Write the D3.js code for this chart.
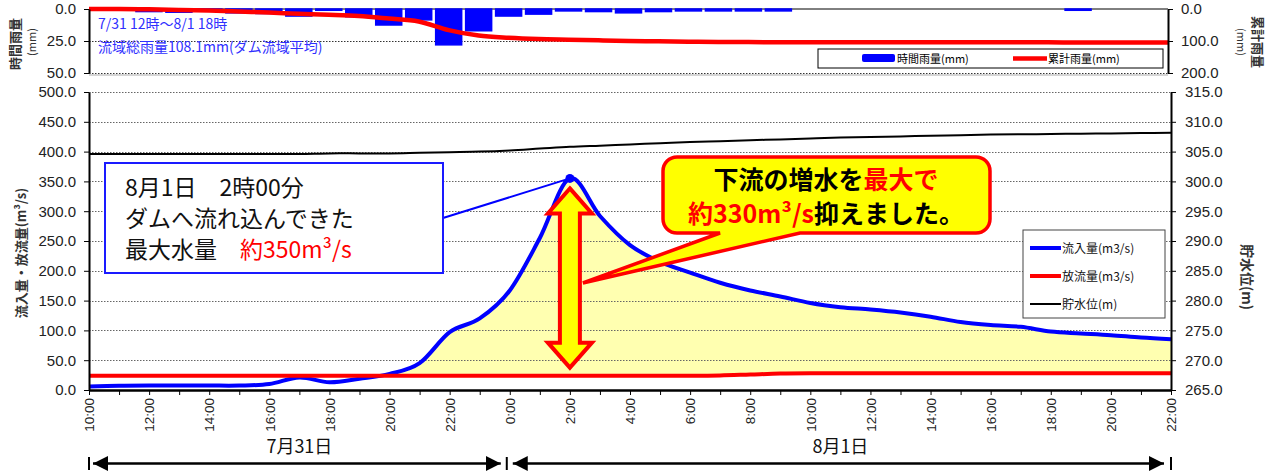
<!DOCTYPE html>
<html>
<head>
<meta charset="utf-8">
<script src="https://cdn.jsdelivr.net/npm/d3@7"></script>
<style>
body { margin: 0; background: #fff; }
svg text { font-family: "Liberation Sans", Arial, sans-serif; }
.jp { font-family: "Noto Sans CJK JP", sans-serif; }
</style>
</head>
<body>
<script>
// hourly timestamps, 7/31 10:00 .. 8/1 22:00
const times = ["7/31 10:00","7/31 11:00","7/31 12:00","7/31 13:00","7/31 14:00","7/31 15:00",
  "7/31 16:00","7/31 17:00","7/31 18:00","7/31 19:00","7/31 20:00","7/31 21:00","7/31 22:00",
  "7/31 23:00","8/1 0:00","8/1 1:00","8/1 2:00","8/1 3:00","8/1 4:00","8/1 5:00","8/1 6:00",
  "8/1 7:00","8/1 8:00","8/1 9:00","8/1 10:00","8/1 11:00","8/1 12:00","8/1 13:00","8/1 14:00",
  "8/1 15:00","8/1 16:00","8/1 17:00","8/1 18:00","8/1 19:00","8/1 20:00","8/1 21:00","8/1 22:00"];

// 流入量 (m3/s)
const inflow = [6, 7, 7.5, 7.5, 7.5, 7.5, 10, 21, 13, 19, 27, 45, 97,
  120, 167, 255, 355, 292, 243, 215, 197, 180, 167, 157, 146, 139, 135,
  130, 123, 114, 109, 106, 98, 95, 92, 88, 85];
// 放流量 (m3/s)
const outflow = [24, 24, 24, 24, 24, 24, 24, 24, 24, 24, 24, 24, 24,
  24, 24, 24, 24, 24, 24, 24, 24, 24.5, 26, 27.5, 28, 28, 28,
  28, 28, 28, 28, 28, 28, 28, 28, 28, 28];
// 貯水位 (m)
const level = [304.6, 304.6, 304.6, 304.6, 304.6, 304.6, 304.6, 304.6, 304.7, 304.7, 304.7, 304.8, 304.9,
  305.0, 305.2, 305.5, 305.8, 306.0, 306.2, 306.4, 306.6, 306.75, 306.9, 307.05, 307.2, 307.35, 307.45,
  307.55, 307.65, 307.75, 307.85, 307.9, 307.95, 308.0, 308.05, 308.1, 308.15];
// 時間雨量 (mm)
const rainHourly = [0, 0, 2, 2.5, 0.5, 3, 3.5, 5.5, 1, 6, 12.5, 8.5, 28,
  17, 5.5, 4, 1.5, 2, 3, 2, 1.5, 1.5, 1.5, 1.5, 0, 0, 0,
  0, 0, 0, 0, 0, 0, 1, 0, 0, 0];
// 累計雨量 (mm)
const rainTotal = [0, 0, 1, 3, 5, 8, 11, 15, 18, 22, 30, 39, 66,
  83, 90, 94, 96, 98, 100, 101, 102, 103, 103.5, 104, 104, 104, 104,
  104, 104, 104, 104, 104, 104, 105, 105, 105, 105];

const flowTicks = [0, 50, 100, 150, 200, 250, 300, 350, 400, 450, 500];
const levelTicks = [265, 270, 275, 280, 285, 290, 295, 300, 305, 310, 315];
const rainTicks = [0, 25, 50];
const totalTicks = [0, 100, 200];
const dayBreak = "8/1 0:00";
const peakTime = "8/1 2:00";

const parse = d3.timeParse("%m/%d %H:%M");
const dates = times.map(parse);
const fmt1 = d3.format(".1f");

const svg = d3.select("body").append("svg")
  .attr("width", 1274).attr("height", 472);

const x = d3.scaleTime().domain(d3.extent(dates)).range([89, 1171]);
const xTop = d3.scaleTime().domain(d3.extent(dates)).range([89, 1168]);
const yFlow = d3.scaleLinear().domain([0, 500]).range([390, 92]);
const yLevel = d3.scaleLinear().domain([265, 315]).range([390, 92]);
const yRain = d3.scaleLinear().domain([0, 50]).range([9, 73]);
const yTotal = d3.scaleLinear().domain([0, 200]).range([9, 73]);

// ---------- top panel : rainfall ----------
const topG = svg.append("g");

topG.append("line").attr("x1", 89).attr("x2", 1168).attr("y1", 9).attr("y2", 9)
  .attr("stroke", "#000").attr("stroke-width", 1);
topG.selectAll(".rgrid").data([25, 50]).enter().append("line")
  .attr("x1", 89).attr("x2", 1168)
  .attr("y1", d => yRain(d) + 0.5).attr("y2", d => yRain(d) + 0.5)
  .attr("stroke", "#333").attr("stroke-dasharray", "1.5,1.5");
topG.append("line").attr("x1", 89).attr("x2", 1168).attr("y1", 75).attr("y2", 75)
  .attr("stroke", "#aaa").attr("stroke-width", 1);

topG.selectAll(".bar").data(rainHourly.map((v, i) => ({ t: dates[i], v })).filter(d => d.v > 0))
  .enter().append("rect")
  .attr("x", d => xTop(d.t) - 13)
  .attr("y", yRain(0))
  .attr("width", 26)
  .attr("height", d => yRain(d.v) - yRain(0))
  .attr("fill", "#0000ff")
  .attr("stroke", "#0000ff").attr("stroke-width", 1.5);

const cumLine = d3.line().x((d, i) => xTop(dates[i])).y(d => yTotal(d)).curve(d3.curveMonotoneX);
topG.append("path").datum(rainTotal).attr("d", cumLine)
  .attr("fill", "none").attr("stroke", "#ff0000").attr("stroke-width", 4.5);

const rainAxis = topG.append("g").attr("transform", "translate(89,0)")
  .call(d3.axisLeft(yRain).tickValues(rainTicks).tickFormat(fmt1).tickSize(5).tickSizeOuter(0).tickPadding(8));
const totalAxis = topG.append("g").attr("transform", "translate(1168,0)")
  .call(d3.axisRight(yTotal).tickValues(totalTicks).tickFormat(fmt1).tickSize(5).tickSizeOuter(0).tickPadding(8));
[rainAxis, totalAxis].forEach(a => {
  a.select(".domain").attr("stroke-width", 2);
  a.selectAll("text").attr("font-size", 15).attr("fill", "#222");
});

topG.append("text").attr("class", "jp")
  .attr("transform", "translate(20,44) rotate(-90)").attr("text-anchor", "middle")
  .attr("font-size", 13).attr("font-weight", "bold").attr("fill", "#333").text("時間雨量");
topG.append("text").attr("class", "jp")
  .attr("transform", "translate(36,42) rotate(-90)").attr("text-anchor", "middle")
  .attr("font-size", 11).attr("fill", "#333").text("(mm)");
topG.append("text").attr("class", "jp")
  .attr("transform", "translate(1253,42) rotate(90)").attr("text-anchor", "middle")
  .attr("font-size", 13).attr("font-weight", "bold").attr("fill", "#333").text("累計雨量");
topG.append("text").attr("class", "jp")
  .attr("transform", "translate(1237,42) rotate(90)").attr("text-anchor", "middle")
  .attr("font-size", 11).attr("fill", "#333").text("(mm)");

topG.append("text").attr("class", "jp").attr("x", 98).attr("y", 29)
  .attr("font-size", 14).attr("fill", "#3030ff").text("7/31 12時～8/1 18時");
topG.append("text").attr("class", "jp").attr("x", 98).attr("y", 52)
  .attr("font-size", 14).attr("fill", "#3030ff").text("流域総雨量108.1mm(ダム流域平均)");

// top legend
const tl = topG.append("g");
tl.append("rect").attr("x", 818).attr("y", 49).attr("width", 345).attr("height", 19)
  .attr("fill", "#fff").attr("stroke", "#000");
tl.append("rect").attr("x", 862).attr("y", 54).attr("width", 33).attr("height", 8).attr("rx", 2)
  .attr("fill", "#0000ff");
tl.append("text").attr("class", "jp").attr("x", 897).attr("y", 63).attr("font-size", 11).text("時間雨量(mm)");
tl.append("line").attr("x1", 1013).attr("x2", 1047).attr("y1", 58.5).attr("y2", 58.5)
  .attr("stroke", "#ff0000").attr("stroke-width", 4.5);
tl.append("text").attr("class", "jp").attr("x", 1048).attr("y", 63).attr("font-size", 11).text("累計雨量(mm)");

// ---------- main panel ----------
const main = svg.append("g");

// yellow area between inflow and outflow
const fillFrom = parse("7/31 19:45");
main.append("clipPath").attr("id", "fillclip").append("rect")
  .attr("x", x(fillFrom)).attr("y", 92)
  .attr("width", 1171 - x(fillFrom)).attr("height", 298);
const fillArea = d3.area()
  .x((d, i) => x(dates[i]))
  .y0((d, i) => yFlow(outflow[i]))
  .y1(d => yFlow(d))
  .curve(d3.curveCardinal.tension(0));
main.append("path").datum(inflow).attr("d", fillArea)
  .attr("clip-path", "url(#fillclip)")
  .attr("fill", "#ffffb0").attr("stroke", "none");

// dotted grid
main.selectAll(".grid").data(flowTicks.slice(1)).enter().append("line")
  .attr("x1", 89).attr("x2", 1171)
  .attr("y1", d => Math.round(yFlow(d)) + 0.5).attr("y2", d => Math.round(yFlow(d)) + 0.5)
  .attr("stroke", "#666").attr("stroke-dasharray", "1.5,1.5");

const flowLine = d3.line().x((d, i) => x(dates[i])).y(d => yFlow(d)).curve(d3.curveCardinal.tension(0));
const levelLine = d3.line().x((d, i) => x(dates[i])).y(d => yLevel(d)).curve(d3.curveCardinal.tension(0));

main.append("path").datum(inflow).attr("d", flowLine)
  .attr("fill", "none").attr("stroke", "#0000ff").attr("stroke-width", 4);
main.append("path").datum(outflow).attr("d", flowLine)
  .attr("fill", "none").attr("stroke", "#ff0000").attr("stroke-width", 4);
main.append("path").datum(level).attr("d", levelLine)
  .attr("fill", "none").attr("stroke", "#000").attr("stroke-width", 2);

// axes
const leftAxis = main.append("g").attr("transform", "translate(89,0)")
  .call(d3.axisLeft(yFlow).tickValues(flowTicks).tickFormat(fmt1).tickSize(5).tickSizeOuter(0).tickPadding(8));
const rightAxis = main.append("g").attr("transform", "translate(1171,0)")
  .call(d3.axisRight(yLevel).tickValues(levelTicks).tickFormat(fmt1).tickSize(5).tickSizeOuter(0).tickPadding(9));
[leftAxis, rightAxis].forEach(a => {
  a.select(".domain").attr("stroke-width", 2);
  a.selectAll("text").attr("font-size", 15).attr("fill", "#222");
});

const xAxis = main.append("g").attr("transform", "translate(0,390)")
  .call(d3.axisBottom(x).ticks(d3.timeHour.every(1))
    .tickFormat(d => d.getHours() % 2 === 0 ? d3.timeFormat("%-H:%M")(d) : "")
    .tickSize(5).tickSizeOuter(0));
xAxis.select(".domain").attr("stroke-width", 2.5);
xAxis.selectAll("text")
  .attr("transform", "rotate(-90)")
  .attr("text-anchor", "end")
  .attr("x", -8).attr("y", 0).attr("dy", "0.35em")
  .attr("font-size", 13.5).attr("fill", "#222");

main.append("text").attr("class", "jp")
  .attr("transform", "translate(26,253) rotate(-90)").attr("text-anchor", "middle")
  .attr("font-size", 13).attr("font-weight", "bold").attr("fill", "#333").text("流入量・放流量(m³/s)");
main.append("text").attr("class", "jp")
  .attr("transform", "translate(1242,277) rotate(90)").attr("text-anchor", "middle")
  .attr("font-size", 14).attr("font-weight", "bold").attr("fill", "#333").text("貯水位(m)");

// main legend
const lg = main.append("g");
lg.append("rect").attr("x", 1023).attr("y", 230).attr("width", 142).attr("height", 88)
  .attr("fill", "#fff").attr("stroke", "#444");
const legendItems = [
  { name: "流入量(m3/s)", color: "#0000ff", w: 4 },
  { name: "放流量(m3/s)", color: "#ff0000", w: 4 },
  { name: "貯水位(m)", color: "#000", w: 2 }
];
legendItems.forEach((d, i) => {
  const yy = 248 + i * 28;
  lg.append("line").attr("x1", 1030).attr("x2", 1061).attr("y1", yy).attr("y2", yy)
    .attr("stroke", d.color).attr("stroke-width", d.w);
  lg.append("text").attr("class", "jp").attr("x", 1062).attr("y", yy + 4.5)
    .attr("font-size", 12).attr("fill", "#111").text(d.name);
});

// ---------- annotations ----------
const pk = parse(peakTime);
const pkIdx = dates.findIndex(d => +d === +pk);
const px = x(pk), py = yFlow(inflow[pkIdx]);

// info box with connector
main.append("line").attr("x1", 443).attr("y1", 218).attr("x2", px).attr("y2", py)
  .attr("stroke", "#0000ff").attr("stroke-width", 2);
main.append("rect").attr("x", 105).attr("y", 163).attr("width", 338).attr("height", 110)
  .attr("fill", "#fff").attr("stroke", "#1a1aff").attr("stroke-width", 2);
const info = main.append("text").attr("class", "jp").attr("font-size", 23).attr("fill", "#111");
info.append("tspan").attr("x", 125).attr("y", 196).text("8月1日　2時00分");
info.append("tspan").attr("x", 125).attr("y", 227).text("ダムへ流れ込んできた");
info.append("tspan").attr("x", 125).attr("y", 258).text("最大水量　");
info.append("tspan").attr("fill", "#ff0000").text("約350m³/s");
main.append("circle").attr("cx", px).attr("cy", py).attr("r", 4.5).attr("fill", "#0000ff");

// double-headed arrow from peak to release
const aTop = py + 10, aBot = yFlow(outflow[pkIdx]) - 8;
const hw = 22, sw = 10, hl = 25;
const arrowPath = d3.path();
arrowPath.moveTo(px, aTop);
arrowPath.lineTo(px + hw, aTop + hl);
arrowPath.lineTo(px + sw, aTop + hl);
arrowPath.lineTo(px + sw, aBot - hl);
arrowPath.lineTo(px + hw, aBot - hl);
arrowPath.lineTo(px, aBot);
arrowPath.lineTo(px - hw, aBot - hl);
arrowPath.lineTo(px - sw, aBot - hl);
arrowPath.lineTo(px - sw, aTop + hl);
arrowPath.lineTo(px - hw, aTop + hl);
arrowPath.closePath();
main.append("path").attr("d", arrowPath.toString())
  .attr("fill", "#ffff00").attr("stroke", "#ff0000").attr("stroke-width", 4);

// callout bubble
const bx0 = 663, bx1 = 990, by0 = 157, by1 = 233, r = 14;
const tipX = px + sw + 3, tipY = 283;
const bubble = d3.path();
bubble.moveTo(bx0 + r, by0);
bubble.lineTo(bx1 - r, by0);
bubble.arcTo(bx1, by0, bx1, by0 + r, r);
bubble.lineTo(bx1, by1 - r);
bubble.arcTo(bx1, by1, bx1 - r, by1, r);
bubble.lineTo(800, by1);
bubble.lineTo(tipX, tipY);
bubble.lineTo(720, by1);
bubble.lineTo(bx0 + r, by1);
bubble.arcTo(bx0, by1, bx0, by1 - r, r);
bubble.lineTo(bx0, by0 + r);
bubble.arcTo(bx0, by0, bx0 + r, by0, r);
bubble.closePath();
main.append("path").attr("d", bubble.toString())
  .attr("fill", "#ffff00").attr("stroke", "#ff0000").attr("stroke-width", 3.5)
  .attr("stroke-linejoin", "miter");

const callout = main.append("text").attr("class", "jp")
  .attr("text-anchor", "middle").attr("font-size", 25).attr("font-weight", "bold").attr("fill", "#000");
const cl1 = callout.append("tspan").attr("x", 826).attr("y", 189);
cl1.append("tspan").text("下流の増水を");
cl1.append("tspan").attr("fill", "#ff0000").text("最大で");
callout.append("tspan").attr("x", 826).attr("y", 223).attr("fill", "#ff0000").text("約330m³/s");
callout.append("tspan").text("抑えました。");

// ---------- day markers ----------
const defs = svg.append("defs");
["arrEnd", "arrStart"].forEach((id, k) => {
  defs.append("marker").attr("id", id)
    .attr("viewBox", "0 0 10 10").attr("refX", k === 0 ? 10 : 0).attr("refY", 5)
    .attr("markerWidth", 6).attr("markerHeight", 6).attr("markerUnits", "strokeWidth")
    .attr("orient", "auto")
    .append("path").attr("d", k === 0 ? "M0,0 L10,5 L0,10 Z" : "M10,0 L0,5 L10,10 Z").attr("fill", "#000");
});
const t0 = dates[0], t1 = dates[dates.length - 1], tb = parse(dayBreak);
const days = [
  { label: "7月31日", a: t0, b: tb },
  { label: "8月1日", a: tb, b: t1 }
];
const dg = svg.append("g");
days.forEach((d, i) => {
  const xa = x(d.a) + (i === 0 ? 4 : 3), xb = x(d.b) - (i === 0 ? 9 : 7);
  dg.append("line").attr("x1", xa).attr("x2", xb).attr("y1", 463.5).attr("y2", 463.5)
    .attr("stroke", "#000").attr("stroke-width", 2.5)
    .attr("marker-start", "url(#arrStart)").attr("marker-end", "url(#arrEnd)");
  dg.append("text").attr("class", "jp").attr("x", (x(d.a) + x(d.b)) / 2).attr("y", 453)
    .attr("text-anchor", "middle").attr("font-size", 18).attr("fill", "#111").text(d.label);
});
[x(t0), x(tb) - 3, x(t1)].forEach(xx => {
  dg.append("line").attr("x1", xx).attr("x2", xx).attr("y1", 457).attr("y2", 470)
    .attr("stroke", "#000").attr("stroke-width", 2);
});
</script>
</body>
</html>
